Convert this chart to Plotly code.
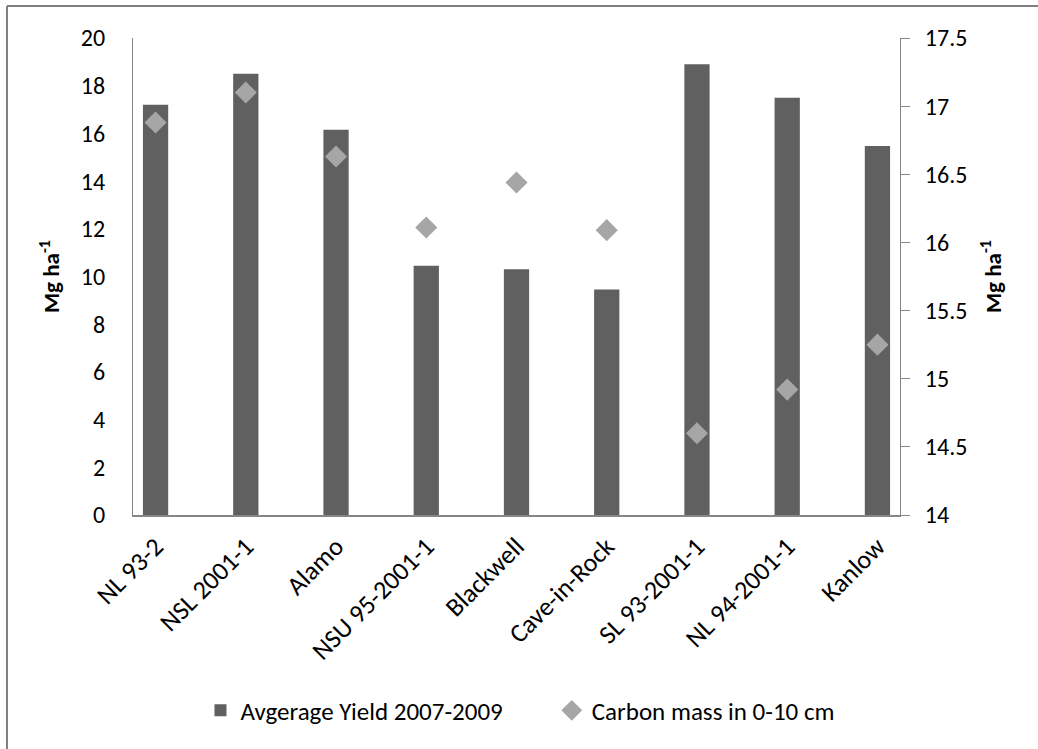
import plotly.graph_objects as go

categories = ["NL 93-2", "NSL 2001-1", "Alamo", "NSU 95-2001-1", "Blackwell",
              "Cave-in-Rock", "SL 93-2001-1", "NL 94-2001-1", "Kanlow"]
yield_vals = [17.2, 18.5, 16.15, 10.45, 10.3, 9.45, 18.9, 17.5, 15.47]
carbon_vals = [16.88, 17.1, 16.63, 16.11, 16.44, 16.09, 14.6, 14.92, 15.25]
left_ticks = [0, 2, 4, 6, 8, 10, 12, 14, 16, 18, 20]
right_ticks = [14, 14.5, 15, 15.5, 16, 16.5, 17, 17.5]

FONT = "Carlito, Lato, sans-serif"
AX = "#868686"

fig = go.Figure()
fig.add_trace(go.Bar(x=categories, y=yield_vals, name="Avgerage Yield 2007-2009",
                     marker=dict(color="#606060", line=dict(width=0)), width=0.28,
                     legend="legend"))
fig.add_trace(go.Scatter(x=categories, y=carbon_vals, name="Carbon mass in 0-10 cm",
                         mode="markers", yaxis="y2", legend="legend2",
                         marker=dict(symbol="diamond", size=17, color="#A6A6A6")))

leg_common = dict(orientation="h", y=-0.41, yanchor="middle", xanchor="left",
                  font=dict(size=25), itemwidth=30, bgcolor="rgba(0,0,0,0)")

fig.update_layout(
    width=1038, height=749,
    margin=dict(l=133, r=138, t=38, b=234),
    paper_bgcolor="white", plot_bgcolor="white",
    font=dict(family=FONT, size=24, color="black"),
    showlegend=True,
    legend=dict(x=0.088, **leg_common),
    legend2=dict(x=0.546, **leg_common),
    xaxis=dict(type="category", range=[-0.25, 8.25], showline=True, linecolor=AX,
               linewidth=2, ticks="", tickangle=-45, showgrid=False,
               tickfont=dict(size=26), ticklabelstandoff=4),
    yaxis=dict(range=[0, 20], tickvals=left_ticks, showline=True, linecolor=AX,
               linewidth=1, ticks="", showgrid=False, zeroline=False,
               tickfont=dict(size=24), ticklabelstandoff=22,
               title=dict(text="<b>Mg ha<sup>-1</sup></b>", font=dict(size=23), standoff=14)),
    yaxis2=dict(range=[14, 17.5], tickvals=right_ticks, overlaying="y", side="right",
                showline=True, linecolor=AX, linewidth=1, ticks="outside", ticklen=9,
                tickcolor=AX, showgrid=False, zeroline=False,
                tickfont=dict(size=24), ticklabelstandoff=10,
                title=dict(text="<b>Mg ha<sup>-1</sup></b>", font=dict(size=23), standoff=18)),
    shapes=[
        dict(type="line", xref="paper", yref="paper", x0=-0.1643, x1=1.2, y0=1.067, y1=1.067,
             line=dict(color="#808080", width=2)),
        dict(type="line", xref="paper", yref="paper", x0=-0.1643, x1=-0.1643, y0=1.067, y1=-0.5,
             line=dict(color="#808080", width=2)),
    ],
)

fig.write_html("out.html")
